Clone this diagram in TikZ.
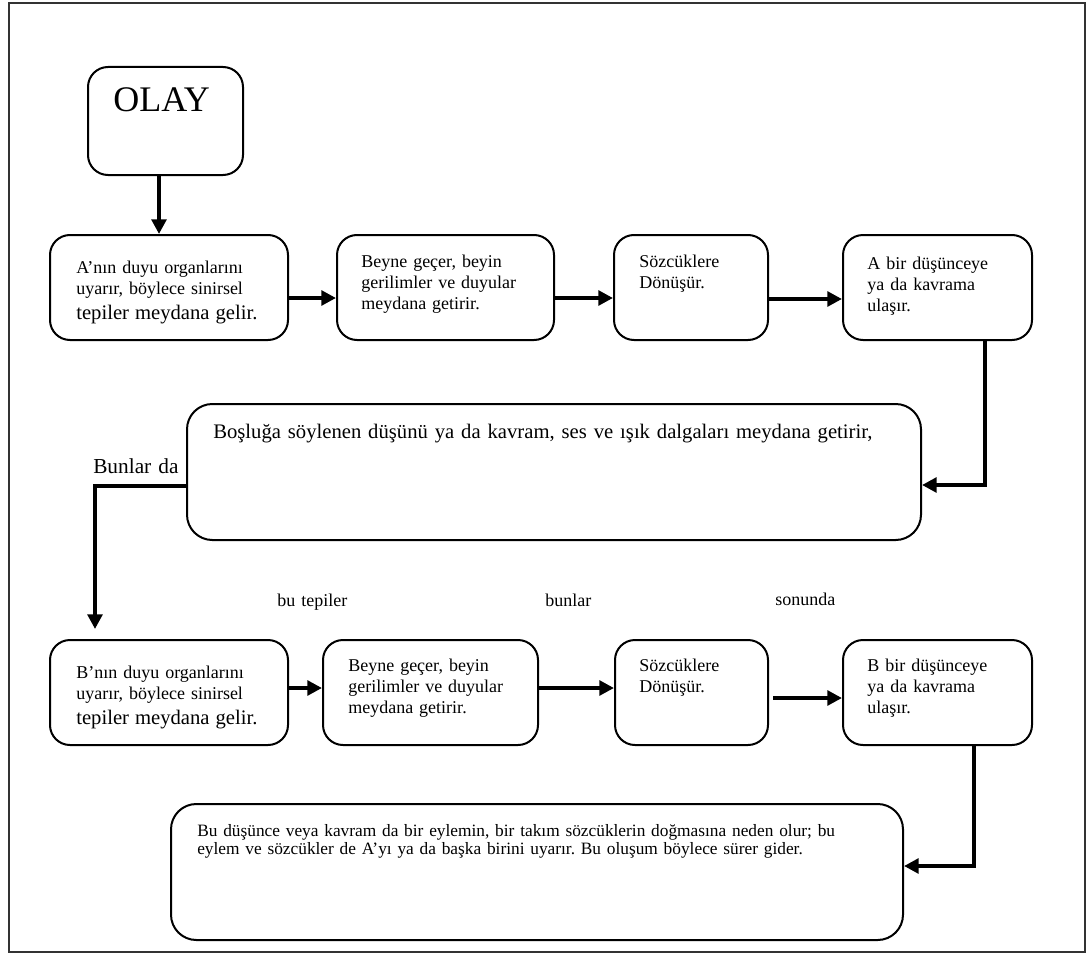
\documentclass[tikz,border=0pt]{standalone}
\usepackage{fontspec}
\setmainfont{Liberation Serif}
\usetikzlibrary{arrows.meta}
\frenchspacing

\tikzset{
  stepbox/.style={draw, line width=1.5pt, rounded corners=15pt},
  bigbox/.style={draw, line width=1.5pt, rounded corners=19pt},
  wordbox/.style={anchor=base west, inner sep=0pt, text width=600pt, align=left,
    font=\fontsize{13.5}{16}\selectfont},
  conn/.style={->, >={Triangle[length=11pt, width=11pt]}, line width=3.5pt},
}

\begin{document}
\begin{tikzpicture}[x=0.75pt, y=-0.75pt]
    \useasboundingbox (0,0) rectangle (1088,956);
    \draw[line width=1pt, black!80] (9,3) rectangle (1085,952);

    \node[stepbox, minimum width=116.25pt, minimum height=81pt] (olay) at (165.5,121) {};
    \node[stepbox, minimum width=178.5pt, minimum height=78.75pt] (a_1) at (169,287.5) {};
    \node[stepbox, minimum width=162.75pt, minimum height=78.75pt] (a_2) at (445.5,287.5) {};
    \node[stepbox, minimum width=115.5pt, minimum height=78.75pt] (a_3) at (691,287.5) {};
    \node[stepbox, minimum width=141.75pt, minimum height=78.75pt] (a_4) at (937.5,287.5) {};
    \node[bigbox, minimum width=550.5pt, minimum height=102pt] (c_1) at (554,472) {};
    \node[stepbox, minimum width=178.5pt, minimum height=78.75pt] (b_1) at (169,692.5) {};
    \node[stepbox, minimum width=161.25pt, minimum height=78.75pt] (b_2) at (430.5,692.5) {};
    \node[stepbox, minimum width=114.75pt, minimum height=78.75pt] (b_3) at (691.5,692.5) {};
    \node[stepbox, minimum width=141.75pt, minimum height=78.75pt] (b_4) at (937.5,692.5) {};
    \node[bigbox, minimum width=549pt, minimum height=102pt] (c_2) at (537,872) {};

    \node[wordbox, font=\fontsize{27}{30}\selectfont] (olay_t) at (113,112) {OLAY};
    \node[wordbox] (a_1t) at (76,273) {A’nın duyu organlarını\\ uyarır, böylece sinirsel\\[3pt]
      {\fontsize{15.5}{17}\selectfont tepiler meydana gelir.}};
    \node[wordbox] (a_2t) at (361,267) {Beyne geçer, beyin\\ gerilimler ve duyular\\ meydana getirir.};
    \node[wordbox] (a_3t) at (639,267) {Sözcüklere\\ Dönüşür.};
    \node[wordbox] (a_4t) at (867,269) {A bir düşünceye\\ ya da kavrama\\ ulaşır.};
    \node[wordbox, font=\fontsize{15.5}{18}\selectfont] (c_1t) at (213,438)
      {Boşluğa söylenen düşünü ya da kavram, ses ve ışık dalgaları meydana getirir,};
    \node[wordbox, font=\fontsize{16}{18}\selectfont] (l_0) at (93,473) {Bunlar da};
    \node[wordbox] (l_1) at (277,606) {bu tepiler};
    \node[wordbox] (l_2) at (545,606) {bunlar};
    \node[wordbox] (l_3) at (775,605) {sonunda};
    \node[wordbox] (b_1t) at (76,678) {B’nın duyu organlarını\\ uyarır, böylece sinirsel\\[3pt]
      {\fontsize{15.5}{17}\selectfont tepiler meydana gelir.}};
    \node[wordbox] (b_2t) at (348,671) {Beyne geçer, beyin\\ gerilimler ve duyular\\ meydana getirir.};
    \node[wordbox] (b_3t) at (639,671) {Sözcüklere\\ Dönüşür.};
    \node[wordbox] (b_4t) at (867,671) {B bir düşünceye\\ ya da kavrama\\ ulaşır.};
    \node[wordbox, font=\fontsize{13}{13.5}\selectfont] (c_2t) at (197,836)
      {Bu düşünce veya kavram da bir eylemin, bir takım sözcüklerin doğmasına neden olur; bu\\
       eylem ve sözcükler de A’yı ya da başka birini uyarır. Bu oluşum böylece sürer gider.};

    \draw[conn] (olay.south -| 159,0) -- (a_1.north -| 159,0);
    \draw[conn] (a_1.east |- 0,298) -- (a_2.west |- 0,298);
    \draw[conn] (a_2.east |- 0,298) -- (a_3.west |- 0,298);
    \draw[conn] (a_3.east |- 0,299) -- (a_4.west |- 0,299);
    \draw[conn] (a_4.south -| 985,0) |- (c_1.east |- 0,485);
    \draw[conn, shorten >=7.5pt] (c_1.west |- 0,486) -| (b_1.north -| 95,0);
    \draw[conn] (b_1.east |- 0,688) -- (b_2.west |- 0,688);
    \draw[conn] (b_2.east |- 0,688) -- (b_3.west |- 0,688);
    \draw[conn, shorten <=3pt] (b_3.east |- 0,698) -- (b_4.west |- 0,698);
    \draw[conn] (b_4.south -| 974,0) |- (c_2.east |- 0,866);
\end{tikzpicture}
\end{document}
